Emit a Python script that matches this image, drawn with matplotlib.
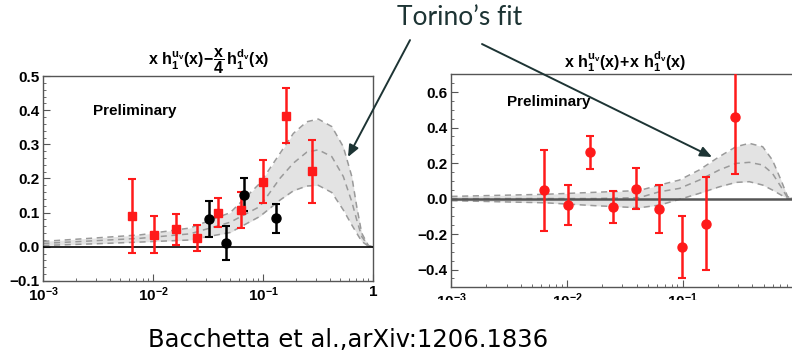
import matplotlib
matplotlib.use("Agg")
import matplotlib.pyplot as plt
from matplotlib.patches import Rectangle
from matplotlib.ticker import LogLocator, MultipleLocator, FixedLocator, FixedFormatter

plt.rcParams['font.family'] = 'Liberation Sans'
plt.rcParams['font.weight'] = 'bold'
plt.rcParams['mathtext.fontset'] = 'custom'
plt.rcParams['mathtext.rm'] = 'Liberation Sans:bold'
plt.rcParams['mathtext.it'] = 'Liberation Sans:bold'
plt.rcParams['mathtext.bf'] = 'Liberation Sans:bold'
plt.rcParams['mathtext.default'] = 'rm'

# left panel: x h1^uv - x/4 h1^dv
l_red_x = [0.0064, 0.0102, 0.0161, 0.0251, 0.039, 0.0622, 0.0993, 0.160, 0.275]
l_red_y = [0.091, 0.036, 0.051, 0.027, 0.100, 0.108, 0.190, 0.384, 0.221]
l_red_err = [0.108, 0.055, 0.046, 0.038, 0.043, 0.053, 0.063, 0.080, 0.093]
l_blk_x = [0.0323, 0.0458, 0.0671, 0.131]
l_blk_y = [0.081, 0.011, 0.153, 0.083]
l_blk_err = [0.053, 0.049, 0.047, 0.043]

l_fit_x = [0.001, 0.003, 0.0076, 0.0215, 0.05, 0.093, 0.142, 0.1875, 0.248, 0.316,
           0.419, 0.533, 0.637, 0.706, 0.784, 0.90, 1.0]
l_fit_up = [0.016, 0.026, 0.035, 0.055, 0.100, 0.186, 0.274, 0.332, 0.366, 0.374,
            0.352, 0.293, 0.206, 0.118, 0.040, 0.004, 0.0]
l_fit_mid = [0.010, 0.018, 0.025, 0.038, 0.072, 0.118, 0.201, 0.245, 0.277, 0.284,
             0.264, 0.206, 0.132, 0.079, 0.030, 0.003, 0.0]
l_fit_lo = [0.004, 0.009, 0.014, 0.020, 0.042, 0.089, 0.137, 0.164, 0.178, 0.180,
            0.159, 0.108, 0.064, 0.040, 0.016, 0.002, 0.0]

# right panel: x h1^uv + x h1^dv
r_red_x = [0.00628, 0.0102, 0.0159, 0.0248, 0.0393, 0.0621, 0.0993, 0.160, 0.282]
r_red_y = [0.046, -0.035, 0.260, -0.046, 0.056, -0.058, -0.273, -0.143, 0.461]
r_red_err = [0.229, 0.113, 0.095, 0.089, 0.115, 0.135, 0.177, 0.262, 0.320]

r_fit_x = [0.001, 0.0065, 0.0172, 0.042, 0.0628, 0.0935, 0.139, 0.207, 0.289, 0.376,
           0.491, 0.596, 0.707, 0.807, 1.0]
r_fit_up = [0.012, 0.024, 0.035, 0.045, 0.076, 0.104, 0.161, 0.236, 0.292, 0.311,
            0.292, 0.217, 0.104, 0.010, 0.0]
r_fit_mid = [0.0, 0.0, 0.0, 0.005, 0.038, 0.057, 0.104, 0.161, 0.198, 0.204,
             0.189, 0.142, 0.066, 0.003, 0.0]
r_fit_lo = [-0.012, -0.024, -0.040, -0.052, -0.037, -0.005, 0.029, 0.066, 0.091, 0.095,
            0.076, 0.048, 0.020, 0.0, 0.0]

x_ticks = [1e-3, 1e-2, 1e-1, 1]
x_labels = [r'$10^{-3}$', r'$10^{-2}$', r'$10^{-1}$', '1']

red = '#ff1a1a'
band = '#e3e3e3'
dash = '#9a9a9a'


def draw_band(ax, x, up, mid, lo):
    ax.fill_between(x, lo, up, color=band, lw=0, zorder=1)
    for y in (up, mid, lo):
        ax.plot(x, y, color=dash, lw=1.1, ls=(0, (4, 3)), zorder=2)


def style_axes(ax, ylim, major, minor):
    ax.set_xscale('log')
    ax.set_xlim(1e-3, 1)
    ax.xaxis.set_major_locator(FixedLocator(x_ticks))
    ax.xaxis.set_major_formatter(FixedFormatter(x_labels))
    ax.xaxis.set_minor_locator(LogLocator(base=10, subs=range(2, 10)))
    ax.set_ylim(*ylim)
    ax.yaxis.set_major_locator(MultipleLocator(major))
    ax.yaxis.set_minor_locator(MultipleLocator(minor))
    ax.yaxis.set_major_formatter(lambda v, pos: ('%.1f' % v).replace('-', '\u2212'))
    ax.tick_params(which='both', direction='in', top=False, right=False,
                   labelsize=11, color='#555555', pad=3)
    ax.tick_params(which='major', length=5)
    ax.tick_params(which='minor', length=2.5)
    for s in ax.spines.values():
        s.set_color('#555555')
        s.set_linewidth(1.0)


fig = plt.figure(figsize=(7.92, 3.58), dpi=100)

# left panel
ax1 = fig.add_axes([0.0547, 0.2151, 0.4167, 0.5726])
style_axes(ax1, (-0.1, 0.5), 0.1, 0.02)
ax1.axhline(0, color='black', lw=1.2, zorder=3)
draw_band(ax1, l_fit_x, l_fit_up, l_fit_mid, l_fit_lo)
ax1.errorbar(l_red_x, l_red_y, yerr=l_red_err, fmt='s', color=red, ms=6,
             elinewidth=1.8, capsize=3, capthick=1.5, zorder=4)
ax1.errorbar(l_blk_x, l_blk_y, yerr=l_blk_err, fmt='o', color='black', ms=6.5,
             elinewidth=1.8, capsize=3, capthick=1.5, zorder=4)
ax1.text(0.15, 0.83, 'Preliminary', transform=ax1.transAxes, fontsize=11,
         ha='left', va='center')
ax1.set_title(r'$x\ h_1^{u_v}(x)\!-\!\dfrac{x}{4}\,h_1^{d_v}(x)$', fontsize=11.5, pad=3)

# right panel (runs past the right edge of the figure)
ax2 = fig.add_axes([0.5700, 0.1975, 0.4381, 0.5950])
style_axes(ax2, (-0.5, 0.7), 0.2, 0.05)
ax2.axhline(0, color='#555555', lw=1.8, zorder=3)
draw_band(ax2, r_fit_x, r_fit_up, r_fit_mid, r_fit_lo)
ax2.errorbar(r_red_x, r_red_y, yerr=r_red_err, fmt='o', color=red, ms=6.5,
             elinewidth=1.8, capsize=3, capthick=1.5, zorder=4)
ax2.text(0.16, 0.87, 'Preliminary', transform=ax2.transAxes, fontsize=11,
         ha='left', va='center')
ax2.set_title(r'$x\ h_1^{u_v}(x)\!+\!x\ h_1^{d_v}(x)$', fontsize=11.5, pad=5)

# white strip under the panels, citation on top of it
fig.patches.append(Rectangle((0, 0), 1, 0.162, transform=fig.transFigure,
                             facecolor='white', edgecolor='none', zorder=10))
fig.text(0.44, 0.05, 'Bacchetta et al.,arXiv:1206.1836', fontsize=17.5,
         fontweight='normal', family='DejaVu Sans', ha='center', va='center',
         color='black', zorder=11)

# "Torino's fit" label with arrows into both panels
arrow_col = '#1d3434'
fig.text(0.501, 0.93, "Torino\u2019s fit", fontsize=19, family='Lato',
         fontweight='normal', ha='left', va='baseline', color=arrow_col)
arrow = dict(arrowstyle='-|>,head_length=0.7,head_width=0.3', color=arrow_col,
             lw=1.4, shrinkA=0, shrinkB=0)
fig.add_artist(plt.Annotation('', xy=(0.4394, 0.5615), xytext=(0.5177, 0.888),
                              xycoords='figure fraction', arrowprops=arrow))
fig.add_artist(plt.Annotation('', xy=(0.899, 0.5615), xytext=(0.6086, 0.877),
                              xycoords='figure fraction', arrowprops=arrow))

fig.savefig('out.png', dpi=100)
